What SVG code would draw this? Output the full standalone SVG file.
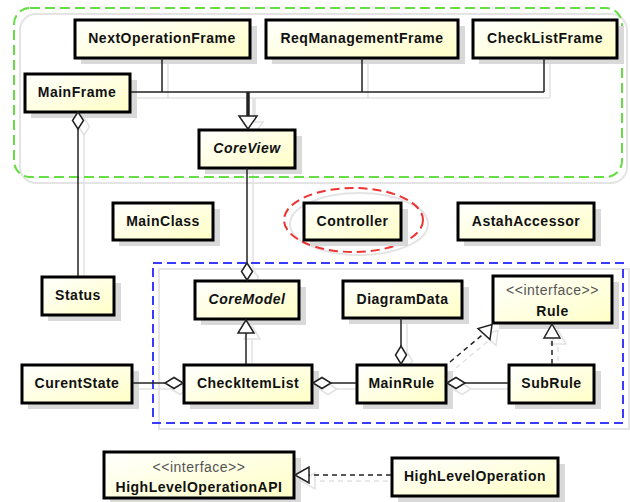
<svg xmlns="http://www.w3.org/2000/svg" xmlns:xlink="http://www.w3.org/1999/xlink" width="630" height="502" viewBox="0 0 630 502">
<defs>
<linearGradient id="fillg" x1="0" y1="0" x2="1" y2="1">
<stop offset="0" stop-color="#ffffff"/>
<stop offset="1" stop-color="#ffffc6"/>
</linearGradient>
<style>
.sh{fill:#d9d9d9;stroke:none}
.box{fill:url(#fillg);stroke:#000;stroke-width:3}
.t{font-family:"Liberation Sans",Arial,sans-serif;font-size:14px;letter-spacing:0.5px;font-weight:bold;text-anchor:middle;fill:#111}
.ti{font-style:italic}
.st{font-family:"Liberation Sans",Arial,sans-serif;font-size:14px;letter-spacing:0.5px;text-anchor:middle;fill:#555}
.ln{fill:none;stroke-width:1.5}
.thick{fill:none;stroke-width:3.5}
.dash{fill:none;stroke-width:1.5;stroke-dasharray:5 4}
.hd{fill:#fff;stroke-width:1.5}
</style>
</defs>
<rect width="630" height="502" fill="#fff"/>

<!-- container shadows -->
<g fill="none" stroke="#e4e4e4" stroke-width="2">
<rect x="20" y="14" width="607" height="169" rx="16"/>
<rect x="159" y="269" width="470" height="160"/>
<ellipse cx="359" cy="224" rx="69" ry="31"/>
</g>

<!-- connector shadows -->
<use xlink:href="#conn-inner" href="#conn-inner" transform="translate(6,6)" stroke="#e2e2e2"/>

<!-- containers -->
<g id="containers" fill="none" stroke-width="2">
<rect x="14" y="8" width="608" height="169" rx="16" stroke="#66dd44" stroke-dasharray="10 5"/>
<rect x="153" y="263" width="470" height="160" stroke="#3a3aff" stroke-dasharray="9 5"/>
<ellipse cx="353.5" cy="220" rx="69.5" ry="32" stroke="#ee3333" stroke-dasharray="9 5"/>
</g>

<!-- nodes -->
<g id="NextOperationFrame"><rect class="sh" x="81" y="26" width="176" height="38"/><rect class="box" x="75" y="20" width="175" height="38"/><text class="t" x="162" y="42.5">NextOperationFrame</text></g>
<g id="ReqManagementFrame"><rect class="sh" x="272" y="26" width="193" height="38"/><rect class="box" x="266" y="20" width="192" height="38"/><text class="t" x="362" y="42.5">ReqManagementFrame</text></g>
<g id="CheckListFrame"><rect class="sh" x="479" y="26" width="145" height="38"/><rect class="box" x="473" y="20" width="144" height="38"/><text class="t" x="545" y="42.5">CheckListFrame</text></g>
<g id="MainFrame"><rect class="sh" x="31" y="80" width="106" height="38"/><rect class="box" x="25" y="74" width="105" height="38"/><text class="t" x="77" y="96.5">MainFrame</text></g>
<g id="CoreView"><rect class="sh" x="205" y="136" width="97" height="38"/><rect class="box" x="199" y="130" width="96" height="38"/><text class="t ti" x="247" y="152.5">CoreView</text></g>
<g id="MainClass"><rect class="sh" x="119" y="209" width="101" height="37"/><rect class="box" x="113" y="203" width="100" height="37"/><text class="t" x="163" y="225.5">MainClass</text></g>
<g id="Controller"><rect class="sh" x="310" y="209" width="98" height="37"/><rect class="box" x="304" y="203" width="97" height="37"/><text class="t" x="352.5" y="225.5">Controller</text></g>
<g id="AstahAccessor"><rect class="sh" x="464" y="209" width="137" height="37"/><rect class="box" x="458" y="203" width="136" height="37"/><text class="t" x="526" y="226">AstahAccessor</text></g>
<g id="Status"><rect class="sh" x="48" y="283" width="73" height="38"/><rect class="box" x="42" y="277" width="72" height="38"/><text class="t" x="78" y="299.5">Status</text></g>
<g id="CoreModel"><rect class="sh" x="201" y="287" width="105" height="38"/><rect class="box" x="195" y="281" width="104" height="38"/><text class="t ti" x="247" y="303.5">CoreModel</text></g>
<g id="DiagramData"><rect class="sh" x="349" y="287" width="120" height="37"/><rect class="box" x="343" y="281" width="119" height="37"/><text class="t" x="402.5" y="303.5">DiagramData</text></g>
<g id="Rule"><rect class="sh" x="499" y="282" width="120" height="47"/><rect class="box" x="493" y="276" width="119" height="47"/><text class="st" x="552.5" y="295">&lt;&lt;interface&gt;&gt;</text><text class="t" x="552.5" y="315.5">Rule</text></g>
<g id="CurentState"><rect class="sh" x="28" y="371" width="111" height="38"/><rect class="box" x="22" y="365" width="110" height="38"/><text class="t" x="77" y="387.5">CurentState</text></g>
<g id="CheckItemList"><rect class="sh" x="190" y="371" width="129" height="38"/><rect class="box" x="184" y="365" width="128" height="38"/><text class="t" x="248" y="387.5">CheckItemList</text></g>
<g id="MainRule"><rect class="sh" x="363" y="371" width="90" height="38"/><rect class="box" x="357" y="365" width="89" height="38"/><text class="t" x="401.5" y="387.5">MainRule</text></g>
<g id="SubRule"><rect class="sh" x="515" y="371" width="86" height="38"/><rect class="box" x="509" y="365" width="85" height="38"/><text class="t" x="551.5" y="387.5">SubRule</text></g>
<g id="HighLevelOperationAPI"><rect class="sh" x="110" y="458" width="191" height="46"/><rect class="box" x="104" y="452" width="190" height="46"/><text class="st" x="199" y="472">&lt;&lt;interface&gt;&gt;</text><text class="t" x="199" y="492">HighLevelOperationAPI</text></g>
<g id="HighLevelOperation"><rect class="sh" x="398" y="464" width="167" height="38"/><rect class="box" x="392" y="458" width="166" height="38"/><text class="t" x="475" y="480.5">HighLevelOperation</text></g>

<!-- connectors -->
<g id="connectors" stroke="#222">
<g id="conn-inner">
<path class="ln" d="M162,58 V92 M131,92 H544 M362,58 V92 M544,58 V92"/>
<path class="thick" d="M248,92 V116"/>
<path class="hd" d="M248,129 L239,116 L257,116 Z"/>
<path class="hd" d="M78,112 L83.5,120.5 L78,129 L72.5,120.5 Z"/>
<path class="ln" d="M78,129 V276"/>
<path class="ln" d="M247,168 V263"/>
<path class="hd" d="M247,263 L252.5,271.5 L247,280 L241.5,271.5 Z"/>
<path class="hd" d="M246,320 L254,333 L238,333 Z"/>
<path class="ln" d="M246,333 V364"/>
<path class="ln" d="M133,383 H165"/>
<path class="hd" d="M183,383 L174,377.5 L165,383 L174,388.5 Z"/>
<path class="hd" d="M313,383 L322,377.5 L331,383 L322,388.5 Z"/>
<path class="ln" d="M331,383 H356"/>
<path class="hd" d="M447,383 L456,377.5 L465,383 L456,388.5 Z"/>
<path class="ln" d="M465,383 H508"/>
<path class="ln" d="M401,318 V346"/>
<path class="hd" d="M401,346 L406.5,355 L401,364 L395.5,355 Z"/>
<path class="dash" d="M450,362 L484,333.5"/>
<path class="hd" d="M492,324.5 L490,339.5 L478,328.5 Z"/>
<path class="dash" d="M552,364 V338"/>
<path class="hd" d="M552,324 L560,338 L544,338 Z"/>
<path class="dash" d="M391,475 H309"/>
<path class="hd" d="M295,475 L309,467 L309,483 Z"/>
</g>
</g>
</svg>
